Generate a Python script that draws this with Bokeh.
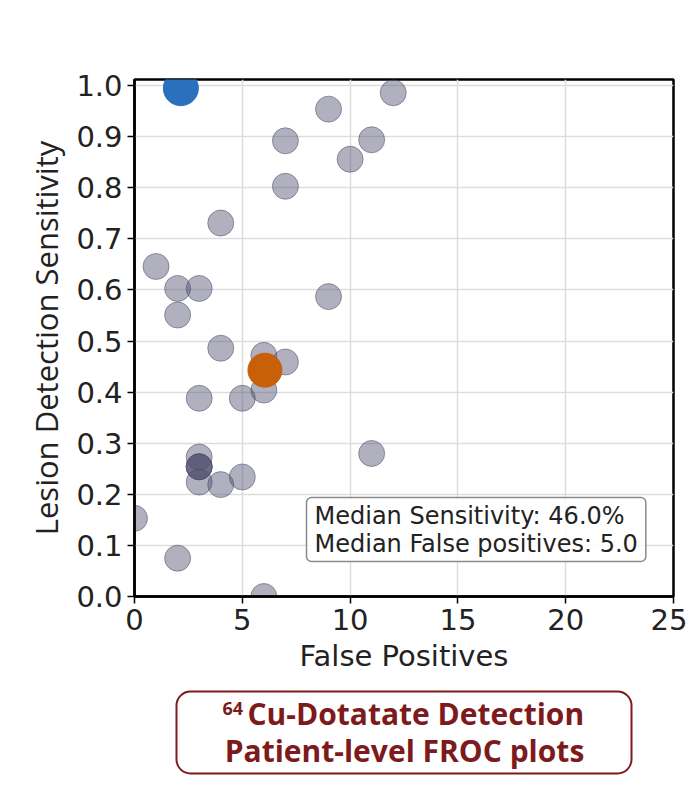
from bokeh.plotting import figure
from bokeh.layouts import column
from bokeh.models import Range1d, FixedTicker, NumeralTickFormatter, Label, BoxAnnotation
from bokeh.embed import file_html
from bokeh.resources import INLINE

# ---- data ----
gray_fp = [12, 9, 7, 11, 10, 7, 4, 1, 2, 3, 2, 9, 4, 6, 7, 6, 5, 3, 11,
           3, 3, 3, 3, 3, 4, 5, 0, 2, 6]
gray_sens = [0.986, 0.954, 0.892, 0.894, 0.856, 0.803, 0.731, 0.646, 0.603, 0.603,
             0.551, 0.587, 0.486, 0.472, 0.459, 0.404, 0.388, 0.388, 0.280,
             0.273, 0.254, 0.254, 0.254, 0.224, 0.219, 0.234, 0.153, 0.075, 0.0]
median_fp = [6.05]
median_sens = [0.443]
best_fp = [2.15]
best_sens = [0.995]

x_ticks = [0, 5, 10, 15, 20, 25]
y_ticks = [0.0, 0.1, 0.2, 0.3, 0.4, 0.5, 0.6, 0.7, 0.8, 0.9, 1.0]

stats_text = "Median Sensitivity: 46.0%\nMedian False positives: 5.0"
title_sup = "64"
title_line1 = "Cu-Dotatate Detection"
title_line2 = "Patient-level FROC plots"

W = 687
H1, H2 = 684, 111
BL, BR = 134, 14

p = figure(width=W, height=H1, output_backend="svg", toolbar_location=None,
           x_range=Range1d(0, 25), y_range=Range1d(0, 1.012),
           min_border_left=BL, min_border_right=BR, min_border_top=79,
           min_border_bottom=H1 - 79 - 517)
p.background_fill_color = "white"
p.border_fill_color = "white"
p.outline_line_color = "black"
p.outline_line_width = 2.5

for ax in (p.xaxis, p.yaxis):
    ax.axis_line_color = "black"
    ax.axis_line_width = 2.5
    ax.major_tick_line_color = "black"
    ax.major_tick_line_width = 1.5
    ax.major_tick_out = 7
    ax.major_tick_in = 0
    ax.minor_tick_line_color = None
    ax.major_label_text_font = "DejaVu Sans"
    ax.major_label_text_font_size = "29px"
    ax.major_label_text_color = "#222222"
    ax.major_label_standoff = 5

p.xaxis.ticker = FixedTicker(ticks=x_ticks)
p.yaxis.ticker = FixedTicker(ticks=y_ticks)
p.xaxis.formatter = NumeralTickFormatter(format="0")
p.yaxis.formatter = NumeralTickFormatter(format="0.0")
p.xgrid.ticker = FixedTicker(ticks=x_ticks)
p.ygrid.ticker = FixedTicker(ticks=y_ticks)
p.grid.grid_line_color = "#dddddd"
p.grid.grid_line_width = 1.5

p.xaxis.axis_label = "False Positives"
p.xaxis.axis_label_text_font = "DejaVu Sans"
p.xaxis.axis_label_text_font_size = "29px"
p.xaxis.axis_label_text_font_style = "normal"
p.xaxis.axis_label_text_color = "#222222"
p.xaxis.axis_label_standoff = 6

p.yaxis.axis_label = "Lesion Detection Sensitivity"
p.yaxis.axis_label_text_font = "Open Sans"
p.yaxis.axis_label_text_font_size = "31px"
p.yaxis.axis_label_text_font_style = "normal"
p.yaxis.axis_label_text_color = "#222222"
p.yaxis.axis_label_standoff = 6

p.scatter(gray_fp, gray_sens, size=26, fill_color="#50506e", fill_alpha=0.45,
          line_color="#50506e", line_alpha=0.55, line_width=1)
p.scatter(median_fp, median_sens, size=34, fill_color="#c8600a", fill_alpha=1.0,
          line_color="#c8600a")
p.scatter(best_fp, best_sens, size=35, fill_color="#2b6fbf", fill_alpha=1.0,
          line_color="#2b6fbf")

stats = Label(x=172, y=35, x_units="screen", y_units="screen", text=stats_text,
              text_font="DejaVu Sans", text_font_size="24px", text_color="#222222",
              text_line_height=1.0, text_baseline="bottom", text_align="left",
              background_fill_color="white", background_fill_alpha=0.85,
              border_line_color="#8a8a8a", border_line_width=1.5,
              border_radius=5, padding=dict(left=8, right=8, top=4, bottom=4))
p.add_layout(stats)

# ---- title panel (frame aligned with the plot frame; x data = page pixels) ----
red = "#7d1a1c"
t = figure(width=W, height=H2, output_backend="svg", toolbar_location=None,
           x_range=Range1d(BL, W - BR), y_range=Range1d(0, H2),
           min_border_left=BL, min_border_right=BR,
           min_border_top=0, min_border_bottom=0)
t.axis.visible = False
t.grid.visible = False
t.outline_line_color = None
t.background_fill_color = "white"
t.border_fill_color = "white"

t.add_layout(BoxAnnotation(left=176, right=631, bottom=22, top=104,
                           fill_color="white", fill_alpha=1.0,
                           line_color=red, line_alpha=1.0, line_width=2,
                           border_radius=14))
t.add_layout(Label(x=222, y=87, text=title_sup,
                   text_font="Open Sans", text_font_style="bold", text_font_size="18px",
                   text_color=red, text_baseline="alphabetic", text_align="left"))
t.add_layout(Label(x=247, y=82, text=title_line1,
                   text_font="Open Sans", text_font_style="bold", text_font_size="30px",
                   text_color=red, text_baseline="alphabetic", text_align="left"))
t.add_layout(Label(x=404, y=45, text=title_line2,
                   text_font="Open Sans", text_font_style="bold", text_font_size="30px",
                   text_color=red, text_baseline="alphabetic", text_align="center"))

layout = column(p, t, spacing=0)
open("out.html", "w").write(file_html(layout, INLINE))
